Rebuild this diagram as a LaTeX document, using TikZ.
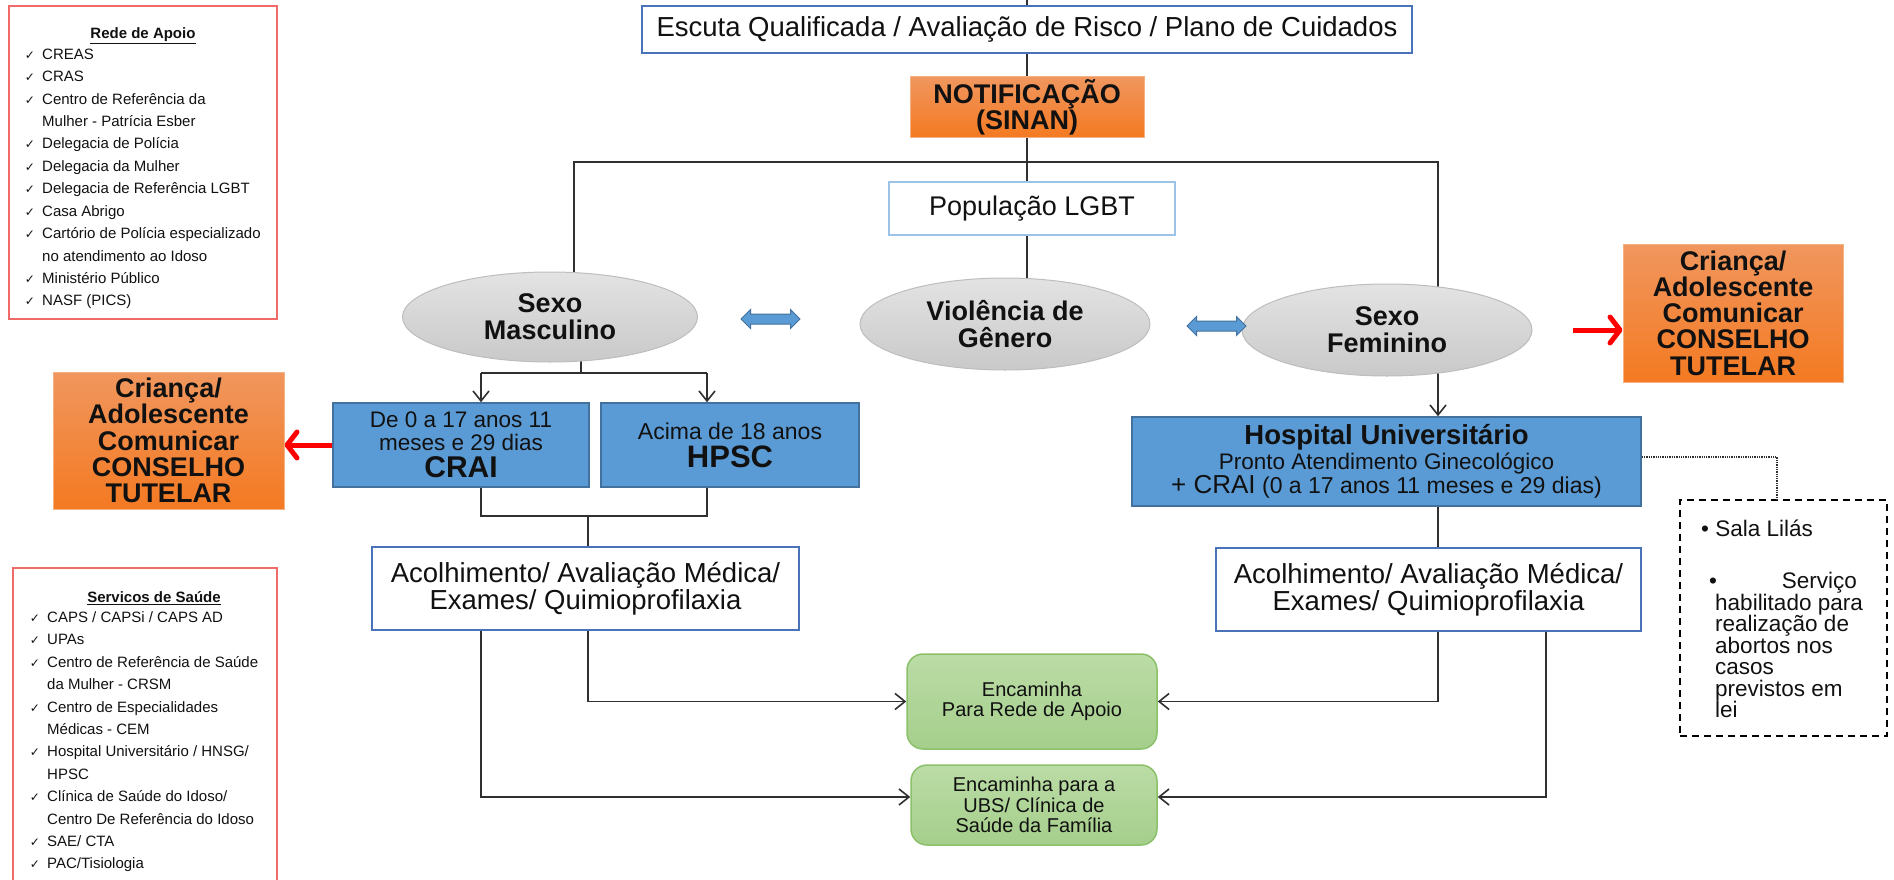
\documentclass[tikz,border=0pt]{standalone}
\usepackage{fontspec}
\setmainfont{Liberation Sans}
\newfontfamily\symbolfont{DejaVu Sans}
\usetikzlibrary{arrows.meta,shapes.geometric,shapes.arrows,backgrounds}

\definecolor{linegray}{HTML}{303030}
\definecolor{frameblue}{HTML}{4A72B8}
\definecolor{paleblue}{HTML}{9CC2E5}
\definecolor{boxblue}{HTML}{5B9BD5}
\definecolor{boxblueedge}{HTML}{41719C}
\definecolor{orangetop}{HTML}{F0965E}
\definecolor{orangebot}{HTML}{F47A22}
\definecolor{orangeedge}{HTML}{F4B183}
\definecolor{ovaltop}{HTML}{E3E3E3}
\definecolor{ovalbot}{HTML}{C9C9C9}
\definecolor{ovaledge}{HTML}{BDBDBD}
\definecolor{greentop}{HTML}{BBDCA6}
\definecolor{greenbot}{HTML}{A5CE8B}
\definecolor{greenedge}{HTML}{8CC06A}
\definecolor{panelred}{HTML}{F06A6A}
\definecolor{inkdark}{HTML}{111111}

\newcommand{\fs}[2]{\fontsize{#1}{#2}\selectfont}
% list lines of the side panels: name, centre y, text x, text
\newcommand{\tickitem}[4]{%
  \node[listtick] (#1t) at ({#3-12},{#2+5.4}) {✓};
  \node[listtext] (#1) at (#3,{#2+5.4}) {#4};}
\newcommand{\contitem}[4]{%
  \node[listtext] (#1) at (#3,{#2+5.4}) {#4};}

\tikzset{
  conn/.style={draw=linegray, line width=1.6pt},
  arr/.style={conn, -{Straight Barb[length=10pt,width=16pt]}},
  redarr/.style={draw=red, line width=5pt, -{Straight Barb[length=10pt,width=26pt,round]}},
  base/.style={inner sep=0pt, align=center, text=inkdark},
  plainbox/.style={base, fill=white, line width=1.5pt},
  bluebox/.style={base, draw=boxblueedge, fill=boxblue, line width=1.5pt},
  orangebox/.style={base, draw=orangeedge, top color=orangetop, bottom color=orangebot, line width=1pt},
  oval/.style={base, ellipse, draw=ovaledge, top color=ovaltop, bottom color=ovalbot, line width=1pt, font=\bfseries\fs{27}{27}},
  greenbox/.style={base, rounded corners=16pt, draw=greenedge, top color=greentop, bottom color=greenbot, line width=1.5pt},
  twoway/.style={double arrow, draw=boxblueedge, fill=boxblue, line width=1pt, minimum height=59pt, inner sep=4.5pt, double arrow head extend=4.5pt},
  listtext/.style={anchor=base west, inner sep=0pt, font=\fs{15}{15}, text=inkdark},
  listtick/.style={anchor=base, inner sep=0pt, font=\symbolfont\fs{12}{12}, text=inkdark},
  notetext/.style={inner sep=0pt, font=\fs{22.5}{22.5}, text=inkdark},
  paneltitle/.style={anchor=base, inner sep=0pt, font=\bfseries\fs{15}{15}, text=inkdark},
}

\begin{document}
\begin{tikzpicture}[x=1pt,y=-1pt]
\useasboundingbox (0,0) rectangle (1894,880);
\clip (0,0) rectangle (1894,880);

% ---------- central column ----------
\coordinate (entry) at (1027,0);
\node[plainbox, draw=frameblue, minimum width=770pt, minimum height=47pt, font=\fs{27.5}{30}] (escuta) at (1027,29.5)
  {Escuta Qualificada / Avaliação de Risco / Plano de Cuidados};
\node[orangebox, minimum width=234pt, minimum height=60pt, font=\bfseries\fs{27}{26}] (notif) at (1027,107)
  {NOTIFICAÇÃO\\(SINAN)};
\node[plainbox, draw=paleblue, minimum width=286pt, minimum height=53pt, font=\fs{27}{30}] (lgbt) at (1032,208.5)
  {População LGBT};

\node[oval, minimum width=295pt, minimum height=90pt] (masc) at (550,317) {Sexo\\Masculino};
\node[oval, minimum width=290pt, minimum height=92pt] (vio) at (1005,324) {Violência de\\Gênero};
\node[oval, minimum width=290pt, minimum height=92pt] (fem) at (1387,330) {Sexo\\Feminino};

\node[twoway] (dbl1) at (770.5,319) {};
\node[twoway] (dbl2) at (1216.5,326) {};

% ---------- male branch ----------
\node[bluebox, minimum width=256pt, minimum height=84pt, font=\fs{22.5}{22.5}] (crai) at (461,445)
  {\rule{0pt}{8pt}De 0 a 17 anos 11\\meses e 29 dias\\[5pt]{\bfseries\fs{30}{30}CRAI}};
\node[bluebox, minimum width=258pt, minimum height=84pt, font=\fs{23}{26}] (hpsc) at (730,445)
  {Acima de 18 anos\\[2pt]{\bfseries\fs{31}{31}HPSC}};
\node[orangebox, minimum width=231pt, minimum height=137pt, font=\bfseries\fs{27}{26.3}] (childL) at (168.5,440.5)
  {Criança/\\Adolescente\\Comunicar\\CONSELHO\\TUTELAR};
\node[plainbox, draw=frameblue, minimum width=427pt, minimum height=83pt, font=\fs{27.5}{27}] (acolL) at (585.5,588.5)
  {Acolhimento/ Avaliação Médica/\\Exames/ Quimioprofilaxia};

% ---------- female branch ----------
\node[bluebox, minimum width=509pt, minimum height=89pt, font=\fs{23}{24.5}] (hosp) at (1386.5,461.5)
  {{\bfseries\fs{27.5}{25}Hospital Universitário}\\{\fs{22.5}{24}Pronto Atendimento Ginecológico}\\{\fs{26}{25}+ CRAI} (0 a 17 anos 11 meses e 29 dias)};
\node[plainbox, draw=frameblue, minimum width=425pt, minimum height=83pt, font=\fs{27.5}{27}] (acolR) at (1428.5,589.5)
  {Acolhimento/ Avaliação Médica/\\Exames/ Quimioprofilaxia};
\node[orangebox, minimum width=220pt, minimum height=138pt, font=\bfseries\fs{27}{26.3}] (childR) at (1733,313)
  {Criança/\\Adolescente\\Comunicar\\CONSELHO\\TUTELAR};

% ---------- referrals ----------
\node[greenbox, minimum width=250pt, minimum height=95pt, font=\fs{20}{20}] (apoio) at (1032,701.5)
  {Encaminha\\Para Rede de Apoio};
\node[greenbox, minimum width=246pt, minimum height=80pt, font=\fs{20}{20.5}] (ubs) at (1034,805)
  {Encaminha para a\\UBS/ Clínica de\\Saúde da Família};

% ---------- note on the right ----------
\node[draw=black, dashed, dash pattern=on 7pt off 5pt, line width=1.5pt, minimum width=207pt, minimum height=236pt, inner sep=0pt] (lilas) at (1783.5,618) {};
\node[notetext, anchor=base west] (lilasA) at (1701,536) {\textbullet\ Sala Lilás};
\node[notetext, anchor=base west] (lilasB) at (1709,588) {\textbullet};
\node[notetext, anchor=base east] (lilasC) at (1857,588) {Serviço};
\foreach \t [count=\i] in {habilitado para, realização de, abortos nos, casos, previstos em, lei}
  \node[notetext, anchor=base west] (lilasL\i) at (1715,{610+21.5*(\i-1)}) {\t};

% ---------- support network panel ----------
\node[draw=panelred, line width=1.2pt, minimum width=268pt, minimum height=313pt, inner sep=0pt] (rede) at (143,162.5) {};
\node[paneltitle] (redeT) at (143,38.5) {\underline{Rede de Apoio}};
\tickitem{ra1}{54}{42}{CREAS}
\tickitem{ra2}{76.4}{42}{CRAS}
\tickitem{ra3}{98.8}{42}{Centro de Referência da}
\contitem{ra4}{121.2}{42}{Mulher - Patrícia Esber}
\tickitem{ra5}{143.6}{42}{Delegacia de Polícia}
\tickitem{ra6}{166}{42}{Delegacia da Mulher}
\tickitem{ra7}{188.4}{42}{Delegacia de Referência LGBT}
\tickitem{ra8}{210.8}{42}{Casa Abrigo}
\tickitem{ra9}{233.2}{42}{Cartório de Polícia especializado}
\contitem{ra10}{255.6}{42}{no atendimento ao Idoso}
\tickitem{ra11}{278}{42}{Ministério Público}
\tickitem{ra12}{300.4}{42}{NASF (PICS)}

% ---------- health services panel ----------
\node[draw=panelred, line width=1.2pt, minimum width=264pt, minimum height=340pt, inner sep=0pt] (saude) at (145,738) {};
\node[paneltitle] (saudeT) at (154,602.5) {\underline{Servicos de Saúde}};
\tickitem{ss1}{617}{47}{CAPS / CAPSi / CAPS AD}
\tickitem{ss2}{639.4}{47}{UPAs}
\tickitem{ss3}{661.8}{47}{Centro de Referência de Saúde}
\contitem{ss4}{684.2}{47}{da Mulher - CRSM}
\tickitem{ss5}{706.6}{47}{Centro de Especialidades}
\contitem{ss6}{729}{47}{Médicas - CEM}
\tickitem{ss7}{751.4}{47}{Hospital Universitário / HNSG/}
\contitem{ss8}{773.8}{47}{HPSC}
\tickitem{ss9}{796.2}{47}{Clínica de Saúde do Idoso/}
\contitem{ss10}{818.6}{47}{Centro De Referência do Idoso}
\tickitem{ss11}{841}{47}{SAE/ CTA}
\tickitem{ss12}{863.4}{47}{PAC/Tisiologia}

% ---------- connectors ----------
\begin{scope}[on background layer]
  \draw[conn] (entry) -- (escuta.north);
  \draw[conn] (escuta.south) -- (notif.north);
  \draw[conn] (notif.south) -- (notif.south |- lgbt.north);
  \draw[conn] (notif.south |- lgbt.south) -- (notif.south |- vio.center);
  \coordinate (splitL) at (574,162);
  \coordinate (splitR) at (1438,162);
  \draw[conn] (splitL |- masc.center) -- (splitL) -- (splitR) -- (splitR |- fem.center);
  % male side
  \coordinate (mjoin) at (581,373);
  \coordinate (tapL) at (481,373);
  \coordinate (tapR) at (707,373);
  \draw[conn] (mjoin |- masc.center) -- (mjoin);
  \draw[conn] (tapL) -- (tapR);
  \draw[arr] (tapL) -- (tapL |- crai.north);
  \draw[arr] (tapR) -- (tapR |- hpsc.north);
  \coordinate (mmerge) at (588,516);
  \draw[conn] (tapL |- crai.south) -- (tapL |- mmerge) -- (tapR |- mmerge) -- (tapR |- hpsc.south);
  \draw[conn] (mmerge) -- (mmerge |- acolL.north);
  \draw[arr] (mmerge |- acolL.south) |- (apoio.west);
  \draw[arr] (tapL |- acolL.south) |- ([yshift=8pt]ubs.west);
  % female side
  \draw[arr] (splitR |- fem.center) -- (splitR |- hosp.north);
  \draw[conn] (splitR |- hosp.south) -- (splitR |- acolR.north);
  \coordinate (tapRR) at (1546,600);
  \draw[arr] (splitR |- acolR.south) |- (apoio.east);
  \draw[arr] (tapRR |- acolR.south) |- ([yshift=8pt]ubs.east);
\end{scope}

\draw[redarr] (crai.west) -- (crai.west -| childL.east);
\draw[redarr, shorten <=40pt] (fem.east) -- (fem.east -| childR.west);
\draw[densely dotted, line width=1.3pt, draw=linegray] ([yshift=4.5pt]hosp.east) -| ([xshift=-6.5pt]lilas.north);

\end{tikzpicture}
\end{document}
